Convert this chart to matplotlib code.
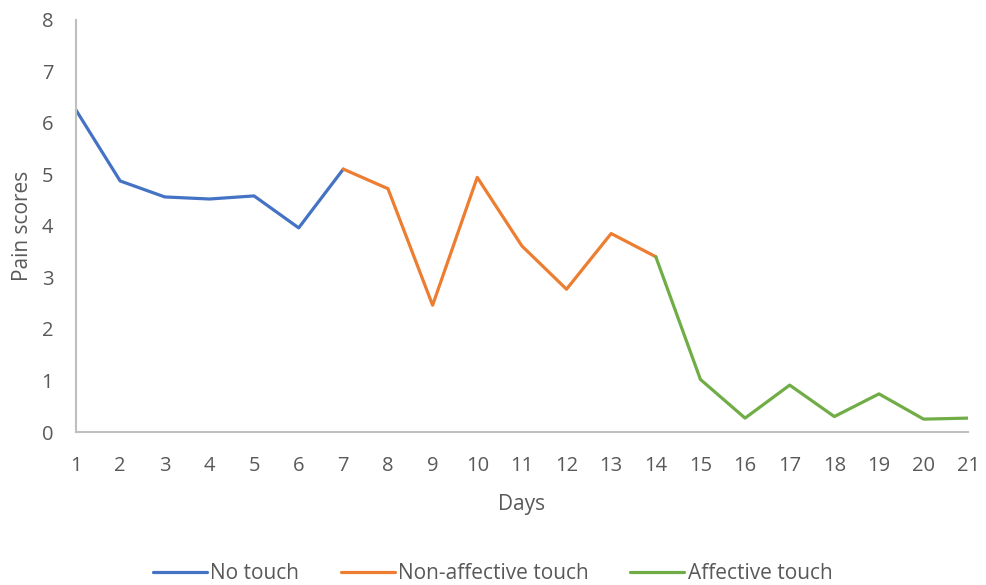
import matplotlib.pyplot as plt

plt.rcParams['font.family'] = ['Open Sans', 'DejaVu Sans']

# pain scores per day, split by phase (phases share their boundary day)
days_no_touch = [1, 2, 3, 4, 5, 6, 7]
no_touch = [6.26, 4.87, 4.56, 4.52, 4.58, 3.96, 5.10]

days_non_affective = [7, 8, 9, 10, 11, 12, 13, 14]
non_affective = [5.10, 4.72, 2.46, 4.94, 3.61, 2.77, 3.85, 3.40]

days_affective = [14, 15, 16, 17, 18, 19, 20, 21]
affective = [3.40, 1.02, 0.27, 0.91, 0.30, 0.74, 0.25, 0.27]

text_col = '#595959'
axis_col = '#BFBFBF'

fig = plt.figure(figsize=(9.87, 5.85), dpi=100)
ax = fig.add_axes([0.0765, 0.2615, 0.9045, 0.705])

ax.plot(days_no_touch, no_touch, color='#4472C4', lw=2.3, label='No touch',
        solid_joinstyle='round', solid_capstyle='round')
ax.plot(days_non_affective, non_affective, color='#ED7D31', lw=2.3,
        label='Non-affective touch', solid_joinstyle='round', solid_capstyle='round')
ax.plot(days_affective, affective, color='#70AD47', lw=2.3, label='Affective touch',
        solid_joinstyle='round', solid_capstyle='round')

ax.set_xlim(1, 21)
ax.set_ylim(0, 8)
ax.set_xticks(range(1, 22))
ax.set_yticks(range(0, 9))
ax.tick_params(length=0, labelsize=14.5, colors=text_col)
ax.tick_params(axis='x', pad=17)
ax.tick_params(axis='y', pad=16)

for side in ['top', 'right']:
    ax.spines[side].set_visible(False)
for side in ['left', 'bottom']:
    ax.spines[side].set_color(axis_col)
    ax.spines[side].set_linewidth(1.5)

ax.set_xlabel('Days', fontsize=15, color=text_col, labelpad=13)
ax.set_ylabel('Pain scores', fontsize=15, color=text_col, labelpad=6)

fig.legend(loc='lower center', bbox_to_anchor=(0.499, -0.03), ncol=3, frameon=False,
           fontsize=15, labelcolor=text_col, handlelength=2.6, handletextpad=0.15,
           columnspacing=2.0)

fig.savefig('out.png', dpi=100)
